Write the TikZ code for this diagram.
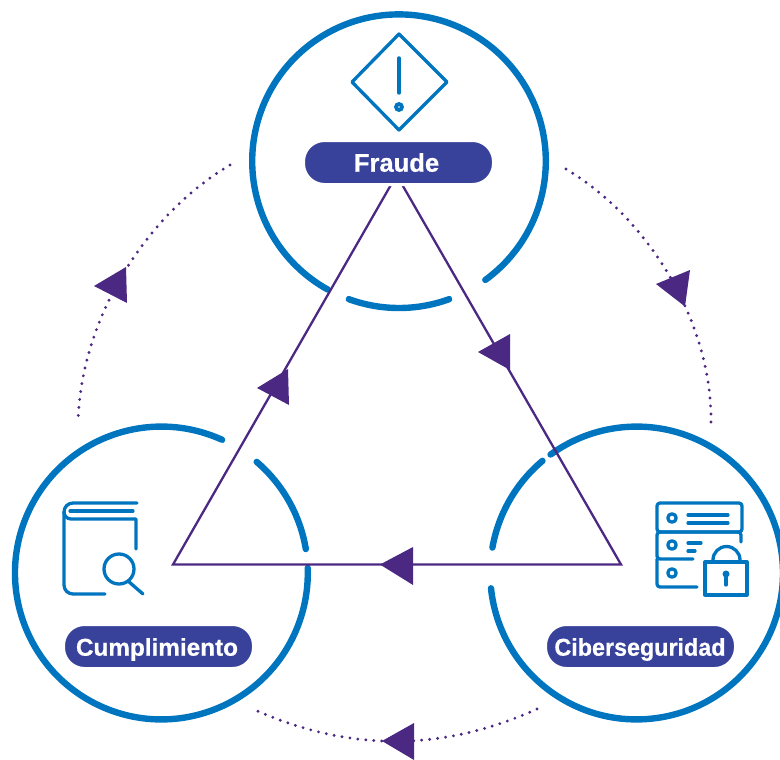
\documentclass[tikz,border=0pt]{standalone}
\usepackage{fontspec}
\setmainfont{Liberation Sans}[BoldFeatures={FakeBold=0.6}]
\newfontfamily\narrowsans[FakeStretch=0.96,BoldFeatures={FakeBold=0.6}]{Liberation Sans}
\definecolor{ringblue}{HTML}{0075BF}
\definecolor{pillblue}{HTML}{39429A}
\definecolor{headpurple}{HTML}{4B2882}
\tikzset{
  ring/.style={draw=ringblue, line width=6.4pt, line cap=round},
  icon/.style={draw=ringblue, line width=3.3pt, line cap=round, line join=round},
  triline/.style={draw=headpurple, line width=2.3pt},
  dotline/.style={draw=headpurple, line width=3.2pt, line cap=round, dash pattern=on 0pt off 8pt},
  head/.style={fill=headpurple},
  pill/.style={fill=pillblue, draw=white, line width=3pt, text=white, rounded corners=21pt,
    minimum width=190pt, minimum height=44pt, inner sep=0pt, text height=18.4pt, text depth=0pt,
    font=\bfseries\fontsize{24.3}{24}\selectfont}
}
\begin{document}
\begin{tikzpicture}[x=1pt,y=-1pt]
  \useasboundingbox (0,0) rectangle (780,760);

  \coordinate (top)   at (399,161.2);
  \coordinate (left)  at (161.4,573);
  \coordinate (right) at (636.6,573);

  \coordinate (apex)  at (396.6,175);
  \coordinate (tleft) at (173,564.5);
  \coordinate (tright) at (621,564.5);

  % dotted outer arcs
  \coordinate (a1) at (230,165);
  \coordinate (a2) at (78,422);
  \coordinate (b1) at (566,169);
  \coordinate (b2) at (711,422);
  \coordinate (c1) at (537,709);
  \coordinate (c2) at (253,709);
  \draw[dotline] (a1) .. controls (144,216) and (81,320) .. (a2);
  \draw[dotline] (b1) .. controls (650,219) and (712,324) .. (b2);
  \draw[dotline] (c1) .. controls (442,752) and (348,752) .. (c2);

  % rings
  \draw[ring] (top)   ++(54:146.8) arc[start angle=54,end angle=-241,radius=146.8];
  \draw[ring] (top)   ++(110:146.8) arc[start angle=110,end angle=70,radius=146.8];
  \draw[ring] (left)  ++(-65.5:146.4) arc[start angle=-65.5,end angle=-362,radius=146.4];
  \draw[ring] (left)  ++(-49.4:146.4) arc[start angle=-49.4,end angle=-9.4,radius=146.4];
  \draw[ring] (right) ++(-186:146.4) arc[start angle=-186,end angle=-486,radius=146.4];
  \draw[ring] (right) ++(-130:146.4) arc[start angle=-130,end angle=-170,radius=146.4];

  \draw[triline] (apex) -- (tright) -- (tleft) -- cycle;

  % arrow heads
  \fill[head] (94,286) -- (126,267) -- (127,303) -- cycle;
  \fill[head] (656,284) -- (690,270) -- (685,306.5) -- cycle;
  \fill[head] (382,741) -- (414,723) -- (414,760) -- cycle;
  \fill[head] (478,352) -- (510,334) -- (510,370) -- cycle;
  \fill[head] (257,388) -- (288,369) -- (289,405) -- cycle;
  \fill[head] (380,564.5) -- (413,547) -- (413,585) -- cycle;

  \node[pill, font=\bfseries\fontsize{25.6}{24}\selectfont] (fraude) at (398.5,162.5) {Fraude\kern4pt};
  \node[pill] (cumpl)  at (158.5,646.5) {Cumplimiento\kern3pt};
  \node[pill, font=\narrowsans\bfseries\fontsize{24.3}{24}\selectfont] (ciber) at (640.5,646.5) {Ciberseguridad\kern1pt};

  % warning icon
  \draw[icon] (399,34) -- (447,82) -- (399,130) -- (352,82) -- cycle;
  \draw[icon, line width=3.5pt] (399,58) -- (399,93);
  \fill[ringblue] (399,107) circle[radius=5];
  \fill[white] (399,107) circle[radius=.8];

  % book icon
  \draw[icon] (137,503) -- (73,503) arc[start angle=-90,end angle=-180,radius=9] -- (64,585)
    arc[start angle=180,end angle=90,radius=9] -- (105,594);
  \draw[icon] (64,512) arc[start angle=180,end angle=90,radius=7] -- (136,519) -- (136,549);
  \draw[icon] (70,511) -- (133,511);
  \draw[icon] (119,569) circle[radius=15];
  \draw[icon] (128,581) -- (143,594);

  % server icon
  \draw[icon, rounded corners=3pt] (657,503) rectangle (742,532);
  \draw[icon, rounded corners=3pt] (741,542) -- (741,532) -- (657,532) -- (657,559) -- (693,559);
  \draw[icon, rounded corners=3pt] (657,559) -- (657,587) -- (697,587);
  \draw[icon] (672,518) circle[radius=4.2];
  \draw[icon] (672,545) circle[radius=4.2];
  \draw[icon] (672,573) circle[radius=4.2];
  \draw[icon] (688,515) -- (728,515);
  \draw[icon] (688,523) -- (728,523);
  \draw[icon] (688,543) -- (701,543);
  \draw[icon] (688,551) -- (695,551);

  % lock
  \draw[icon] (705,562) rectangle (747,595);
  \draw[icon] (713,562) -- (713,560) arc[start angle=180,end angle=360,radius=13.5] -- (740,562);
  \fill[ringblue] (726,574) circle[radius=3.5];
  \draw[icon] (726,574) -- (726,585);
\end{tikzpicture}
\end{document}
